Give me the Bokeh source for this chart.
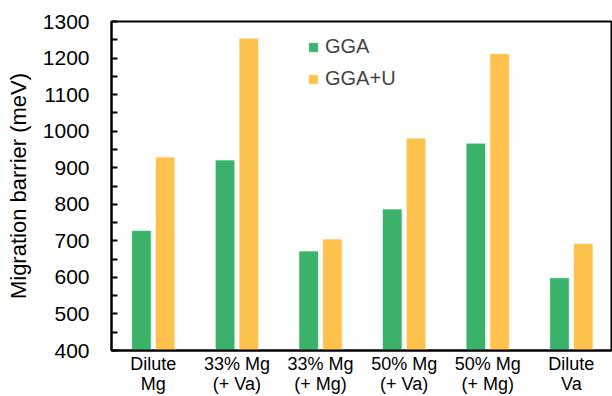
from bokeh.plotting import figure
from bokeh.models import ColumnDataSource, Range1d, FixedTicker, Legend, LegendItem
from bokeh.transform import dodge
from bokeh.embed import file_html
from bokeh.resources import INLINE

# ---- data ----
categories = ["Dilute\nMg", "33% Mg\n(+ Va)", "33% Mg\n(+ Mg)",
              "50% Mg\n(+ Va)", "50% Mg\n(+ Mg)", "Dilute\nVa"]
gga = [728, 921, 672, 787, 967, 599]
gga_u = [929, 1254, 705, 981, 1212, 693]
series_names = ["GGA", "GGA+U"]
y_ticks = [400, 500, 600, 700, 800, 900, 1000, 1100, 1200, 1300]
y_minor_ticks = [450, 550, 650, 750, 850, 950, 1050, 1150, 1250]
y_label = "Migration barrier (meV)"

GREEN = "#3AB26A"
ORANGE = "#FFC24D"
FONT = "Liberation Sans"

pos = list(range(1, len(categories) + 1))
src = ColumnDataSource(dict(x=pos, cat=categories, gga=gga, ggau=gga_u))

p = figure(width=612, height=396, output_backend="svg", toolbar_location=None,
           x_range=Range1d(0.5, 6.48), y_range=Range1d(400, 1300),
           min_border_left=111, min_border_right=1, min_border_top=21,
           min_border_bottom=45)

bw = 0.233
r1 = p.vbar(x=dodge("x", -0.142, range=p.x_range), top="gga", width=bw, source=src,
            fill_color=GREEN, line_color="white", line_alpha=0.6, line_width=1)
r2 = p.vbar(x=dodge("x", 0.142, range=p.x_range), top="ggau", width=bw, source=src,
            fill_color=ORANGE, line_color="white", line_alpha=0.6, line_width=1)

p.xgrid.visible = False
p.ygrid.visible = False
p.outline_line_color = "black"
p.outline_line_width = 2
p.outline_line_alpha = 1

xa = p.xaxis[0]
xa.ticker = FixedTicker(ticks=pos, minor_ticks=[])
xa.major_label_overrides = {i: c for i, c in zip(pos, categories)}
xa.axis_line_width = 2
xa.axis_line_color = "black"
xa.major_tick_line_color = None
xa.minor_tick_line_color = None
xa.major_tick_in = 0
xa.major_tick_out = 0
xa.major_label_standoff = 3
xa.major_label_text_font = FONT
xa.major_label_text_font_size = "18px"
xa.major_label_text_color = "black"
xa.major_label_text_line_height = 1.0

ya = p.yaxis[0]
ya.ticker = FixedTicker(ticks=y_ticks, minor_ticks=y_minor_ticks)
ya.axis_line_width = 2
ya.axis_line_color = "black"
ya.major_tick_in = 6
ya.major_tick_out = 0
ya.minor_tick_in = 6
ya.minor_tick_out = 0
ya.major_tick_line_width = 2
ya.minor_tick_line_width = 2
ya.major_label_text_font = FONT
ya.major_label_text_font_size = "21px"
ya.major_label_text_color = "black"
ya.major_label_standoff = 22
ya.axis_label = y_label
ya.axis_label_text_font = FONT
ya.axis_label_text_font_size = "22px"
ya.axis_label_text_font_style = "normal"
ya.axis_label_text_color = "black"
ya.axis_label_standoff = 9

legend = Legend(items=[LegendItem(label=series_names[0], renderers=[r1]),
                       LegendItem(label=series_names[1], renderers=[r2])],
                location=(196, 260), orientation="vertical")
legend.glyph_width = 12
legend.glyph_height = 12
legend.label_text_font = FONT
legend.label_text_font_size = "20px"
legend.label_standoff = 6
legend.spacing = 9
legend.padding = 0
legend.margin = 0
legend.border_line_color = None
legend.background_fill_alpha = 0
p.add_layout(legend)

open("out.html", "w").write(file_html(p, INLINE))
